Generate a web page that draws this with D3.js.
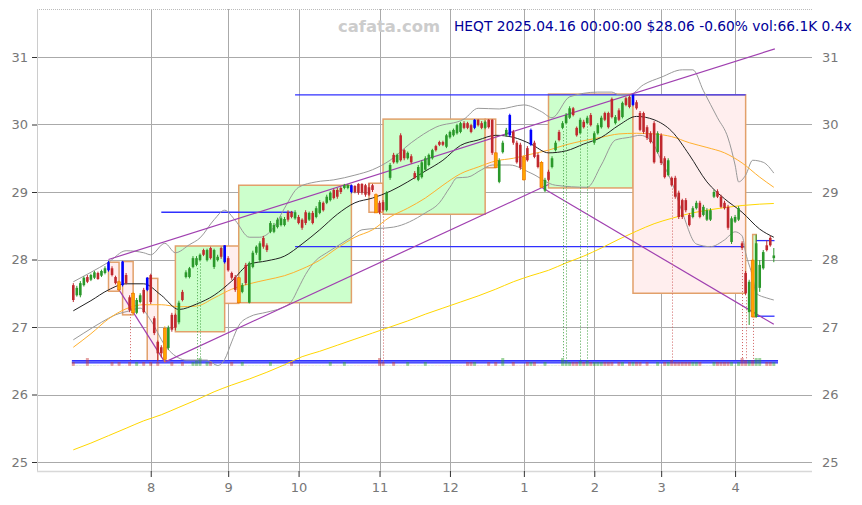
<!DOCTYPE html>
<html><head><meta charset="utf-8">
<script src="https://cdn.jsdelivr.net/npm/d3@7"></script>
<style>body{margin:0;background:#fff}svg{display:block;font-family:"DejaVu Sans",sans-serif}</style>
</head><body><svg id="c" width="862" height="505"></svg>
<script>
// ---------- DATA ----------
// daily candles [open, high, low, close], 2024-07-02 .. 2025-04-16
const candles = [
[27.62,27.65,27.37,27.40],[27.47,27.61,27.45,27.58],[27.47,27.68,27.44,27.65],[27.62,27.75,27.60,27.73],[27.74,27.77,27.65,27.67],
[27.70,27.79,27.68,27.77],[27.73,27.83,27.71,27.81],[27.80,27.82,27.70,27.71],[27.76,27.85,27.74,27.83],[27.80,27.90,27.78,27.87],
[27.84,27.98,27.82,27.96],[27.87,27.90,27.75,27.77],[27.74,27.76,27.63,27.65],[27.67,27.69,27.53,27.55],[27.62,27.98,27.60,27.97],
[27.77,27.80,27.63,27.65],[27.44,27.47,27.22,27.25],[27.50,27.52,27.18,27.21],[27.21,27.43,27.19,27.40],[27.37,27.50,27.35,27.47],
[27.55,27.58,27.20,27.22],[27.55,27.74,27.53,27.73],[27.77,27.79,27.34,27.37],[27.13,27.16,26.88,26.91],[26.78,26.80,26.49,26.61],
[26.70,26.73,26.55,26.61],[26.52,27.01,26.48,26.98],[26.69,27.02,26.66,26.99],[27.18,27.21,26.93,26.96],[27.18,27.20,26.95,26.99],
[27.07,27.39,27.04,27.36],[27.52,27.55,27.38,27.40],[27.74,27.84,27.72,27.81],[27.74,27.89,27.72,27.87],[27.89,28.05,27.87,28.02],
[27.92,28.05,27.90,28.02],[27.99,28.09,27.97,28.07],[28.14,28.16,28.05,28.07],[27.99,28.16,27.97,28.14],[28.17,28.19,28.00,28.02],
[27.89,28.16,27.86,28.14],[27.99,28.07,27.97,28.04],[28.17,28.19,28.01,28.04],[27.96,28.21,27.94,28.21],[28.02,28.05,27.82,27.84],
[27.80,27.82,27.70,27.73],[27.74,27.77,27.52,27.55],[27.36,27.74,27.35,27.73],[27.52,27.65,27.50,27.62],[27.92,27.95,27.62,27.65],
[27.36,27.97,27.35,27.95],[27.89,28.13,27.87,28.10],[28.10,28.21,28.07,28.19],[27.99,28.27,27.96,28.24],[28.32,28.35,28.16,28.19],
[28.21,28.24,28.11,28.14],[28.41,28.57,28.39,28.54],[28.41,28.54,28.39,28.51],[28.48,28.62,28.46,28.59],[28.51,28.64,28.49,28.61],
[28.51,28.63,28.49,28.60],[28.70,28.73,28.56,28.59],[28.70,28.72,28.61,28.63],[28.61,28.73,28.59,28.70],[28.63,28.66,28.52,28.54],
[28.59,28.61,28.44,28.47],[28.70,28.73,28.51,28.54],[28.59,28.71,28.57,28.69],[28.69,28.72,28.52,28.54],[28.63,28.79,28.61,28.76],
[28.69,28.88,28.67,28.85],[28.84,28.86,28.71,28.73],[28.84,28.96,28.82,28.93],[28.88,29.01,28.86,28.99],[29.03,29.05,28.89,28.91],
[29.03,29.06,28.90,28.93],[29.06,29.08,28.97,29.00],[29.06,29.12,29.04,29.10],[29.06,29.12,29.04,29.10],[29.00,29.11,28.98,29.10],
[29.09,29.10,28.98,29.00],[29.12,29.13,28.96,28.99],[29.12,29.13,28.96,28.99],[29.10,29.12,28.93,28.96],[29.07,29.13,28.94,28.96],
[29.10,29.12,29.00,29.03],[28.96,28.98,28.69,28.69],[28.84,28.87,28.67,28.70],[28.85,28.88,28.71,28.73],[28.73,29.01,28.71,28.99],
[29.21,29.43,29.18,29.40],[29.55,29.58,29.42,29.44],[29.44,29.57,29.42,29.55],[29.84,29.87,29.45,29.47],[29.62,29.64,29.47,29.50],
[29.50,29.60,29.48,29.58],[29.53,29.56,29.42,29.44],[29.28,29.31,29.19,29.21],[29.18,29.40,29.16,29.37],[29.22,29.47,29.20,29.44],
[29.33,29.53,29.31,29.50],[29.40,29.57,29.38,29.55],[29.50,29.64,29.48,29.62],[29.68,29.70,29.60,29.62],[29.74,29.76,29.68,29.70],
[29.74,29.76,29.68,29.70],[29.67,29.86,29.65,29.84],[29.81,29.91,29.79,29.89],[29.84,29.94,29.82,29.92],[29.87,30.01,29.85,29.99],
[29.89,30.04,29.87,30.02],[30.02,30.05,29.93,29.95],[30.02,30.04,29.93,29.95],[29.99,30.01,29.87,29.89],[29.95,30.08,29.93,30.07],
[30.07,30.08,29.97,29.99],[30.02,30.05,29.93,29.95],[29.95,30.06,29.93,30.04],[30.07,30.08,29.94,29.96],[30.07,30.08,29.55,29.58],
[29.58,29.59,29.36,29.36],[29.15,29.50,29.13,29.47],[29.59,29.76,29.57,29.73],[29.84,29.95,29.82,29.92],[29.84,30.16,29.82,30.14],
[29.89,29.92,29.70,29.73],[29.73,29.76,29.42,29.44],[29.70,29.73,29.33,29.36],[29.52,29.54,29.17,29.18],[29.65,29.68,29.45,29.47],
[29.70,29.94,29.68,29.92],[29.73,29.76,29.50,29.52],[29.55,29.58,29.35,29.37],[29.44,29.46,29.06,29.07],[29.02,29.21,29.00,29.18],
[29.30,29.33,29.16,29.18],[29.37,29.53,29.35,29.50],[29.62,29.76,29.60,29.73],[29.89,29.92,29.75,29.77],[29.95,30.05,29.93,30.02],
[30.02,30.17,30.00,30.14],[30.10,30.27,30.08,30.24],[30.24,30.26,30.12,30.14],[29.95,29.97,29.82,29.84],[29.87,30.10,29.85,30.07],
[30.04,30.07,29.94,29.96],[30.02,30.13,30.00,30.10],[30.14,30.17,29.97,29.99],[29.73,29.90,29.70,29.87],[29.87,30.02,29.85,29.99],
[29.96,30.13,29.94,30.10],[30.17,30.19,30.05,30.07],[30.17,30.19,29.94,29.96],[30.38,30.40,30.09,30.11],[30.02,30.14,30.00,30.11],
[30.21,30.24,30.05,30.07],[30.11,30.34,30.09,30.32],[30.39,30.41,30.27,30.29],[30.41,30.43,30.24,30.26],[30.29,30.45,30.27,30.44],
[30.33,30.36,30.22,30.24],[30.17,30.20,29.90,29.92],[30.17,30.19,29.86,29.89],[29.96,29.99,29.77,29.80],[29.87,29.90,29.72,29.74],
[30.02,30.05,29.42,29.44],[29.59,29.90,29.57,29.87],[29.84,29.87,29.40,29.43],[29.50,29.53,29.20,29.22],[29.25,29.50,29.23,29.47],
[29.21,29.23,29.08,29.10],[29.21,29.24,28.90,28.93],[28.99,29.02,28.60,28.63],[28.88,28.90,28.60,28.63],[28.88,28.91,28.70,28.73],
[28.66,28.69,28.49,28.51],[28.63,28.79,28.61,28.76],[28.76,28.87,28.74,28.84],[28.84,28.87,28.61,28.63],[28.66,28.81,28.64,28.78],
[28.59,28.76,28.57,28.73],[28.59,28.76,28.57,28.73],[28.93,29.03,28.91,29.00],[29.01,29.04,28.91,28.93],[28.93,28.96,28.76,28.78],
[28.84,28.87,28.74,28.76],[28.78,28.81,28.44,28.47],[28.26,28.64,28.23,28.61],[28.56,28.66,28.54,28.63],[28.59,28.79,28.57,28.76],
[28.24,28.27,28.14,28.17],[27.80,27.83,27.47,27.50],[27.22,27.70,27.03,27.67],[27.99,28.01,27.15,27.15],[27.15,28.37,27.14,28.24],
[27.58,27.99,27.52,27.92],[27.87,28.14,27.85,28.11],[28.21,28.28,28.12,28.14],[28.32,28.35,28.19,28.21],[28.02,28.17,27.96,28.06]
];
// volume, thousands of shares
const volumes = [
70,5,5,5,140,5,5,5,5,5, 5,70,5,70,5,5,70,5,70,5, 70,5,70,5,70,5,5,5,70,5, 5,70,5,5,70,90,140,5,70,70,
5,5,5,5,5,70,5,5,70,5, 5,5,5,5,5,5,70,5,5,5, 5,5,70,5,5,5,5,5,5,5, 5,5,5,70,5,5,5,70,5,5,
5,5,5,5,5,5,5,140,70,5, 5,70,5,5,5,70,5,5,5,5, 70,5,5,5,5,5,5,5,5,5, 5,5,70,70,70,5,5,5,70,5,
70,5,140,5,5,70,5,5,5,70, 70,70,5,5,70,5,5,5,5,140, 90,70,70,70,90,70,90,70,70,70, 70,70,70,70,5,70,70,5,70,70,
70,70,5,70,5,5,70,5,70,70, 100,70,70,70,70,70,70,70,70,5, 5,5,70,70,70,70,70,70,5,70, 140,100,100,100,140,140,5,70,70,66.1
];
const pivotHighs = [10,14,21,43,79,114,124,130,159];   // blue candles
const pivotLows  = [13,17,26,47,86,120,128,133,193];   // orange candles
const markedDays = [16,35,36,88,139,140,144,146,170,190,191,193];

const monthIdx = [22,44,64,87,107,128,148,167,188];
const monthLabels = ['8','9','10','11','12','1','2','3','4'];
const yTicks = [25,26,27,28,29,30,31];

// indicators [day index, price]
const sma20 = [[0,27.24],[5,27.39],[10,27.55],[15,27.64],[20,27.64],[25,27.47],[30,27.26],[35,27.34],[40,27.47],[45,27.68],[50,27.93],[55,27.98],[60,28.05],[65,28.23],[70,28.44],[75,28.67],[80,28.84],[85,28.91],[90,29.01],[95,29.15],[100,29.31],[105,29.47],[110,29.69],[115,29.77],[120,29.84],[125,29.81],[130,29.71],[135,29.58],[140,29.61],[145,29.71],[150,29.81],[155,29.99],[160,30.12],[165,30.07],[170,29.90],[175,29.55],[180,29.15],[185,28.90],[190,28.70],[195,28.45],[199,28.33]];
const sma50 = [[0,26.70],[5,26.90],[10,27.12],[15,27.27],[20,27.33],[25,27.33],[30,27.30],[35,27.31],[40,27.43],[45,27.56],[50,27.64],[55,27.70],[60,27.76],[65,27.86],[70,27.99],[75,28.17],[80,28.33],[85,28.44],[90,28.63],[95,28.76],[100,28.91],[105,29.10],[110,29.27],[115,29.37],[120,29.46],[125,29.50],[130,29.56],[135,29.62],[140,29.70],[145,29.76],[150,29.81],[155,29.86],[160,29.87],[165,29.86],[170,29.82],[175,29.73],[180,29.66],[185,29.58],[190,29.43],[195,29.22],[199,29.07]];
const sma200 = [[0,25.18],[5,25.28],[10,25.39],[15,25.50],[20,25.61],[25,25.70],[30,25.81],[35,25.92],[40,26.04],[45,26.14],[50,26.23],[55,26.33],[60,26.44],[65,26.56],[70,26.64],[75,26.73],[80,26.82],[85,26.91],[90,27.00],[95,27.09],[100,27.19],[105,27.28],[110,27.37],[115,27.46],[120,27.56],[125,27.67],[130,27.76],[135,27.84],[140,27.95],[145,28.05],[150,28.17],[155,28.30],[160,28.42],[165,28.53],[170,28.61],[175,28.68],[180,28.73],[185,28.77],[190,28.80],[195,28.82],[199,28.83]];
const bbUpper = [[0,27.67],[5,27.81],[10,27.96],[15,28.13],[20,28.10],[22,28.07],[26,28.24],[29,28.10],[33,28.22],[36,28.32],[40,28.59],[43,28.73],[46,28.58],[50,28.33],[53,28.33],[57,28.48],[60,28.76],[64,29.07],[69,29.15],[74,29.18],[80,29.25],[85,29.33],[90,29.47],[96,29.73],[103,29.96],[111,30.08],[115,30.24],[121,30.23],[128,30.29],[133,30.19],[136,30.10],[141,30.41],[149,30.48],[153,30.48],[155,30.44],[158,30.44],[162,30.59],[167,30.70],[173,30.81],[176,30.81],[179,30.50],[183,30.10],[186,29.80],[188,29.40],[189,29.15],[191,29.25],[193,29.47],[196,29.44],[199,29.28]];
const bbLower = [[0,26.81],[3,26.91],[8,27.07],[12,27.18],[16,27.24],[19,27.28],[22,27.10],[26,26.73],[30,26.54],[32,26.51],[38,26.51],[41,26.43],[43,26.52],[45,26.78],[47,27.02],[50,27.15],[55,27.22],[59,27.28],[62,27.38],[64,27.58],[66,27.78],[69,27.99],[72,28.10],[79,28.33],[82,28.44],[91,28.48],[100,28.69],[104,28.84],[107,29.07],[109,29.21],[112,29.22],[116,29.33],[119,29.40],[124,29.40],[130,29.28],[137,29.10],[146,29.07],[150,29.40],[154,29.77],[158,29.81],[161,29.84],[164,29.77],[167,29.47],[170,29.15],[173,28.70],[177,28.23],[181,28.19],[185,28.29],[188,28.41],[190,28.35],[191,28.10],[193,27.74],[194,27.50],[197,27.43],[199,27.40]];

// swing boxes: [type, fromDay, toDay, high, low]
const boxes = [
['down',10,13,27.96,27.53],['down',14,17,27.97,27.18],['down',21,24,27.72,26.49],
['up',29,43,28.20,26.93],['down',43,47,28.20,27.35],['up',47,79,29.10,27.36],
['down',84,88,29.13,28.70],['up',88,117,30.08,28.67],['down',117,120,30.08,29.36],
['up',135,159,30.45,29.06],['down',159,191,30.44,27.50],['up',193,194,28.37,27.15]
];
// horizontal levels: [fromDay, toDay, price]
const levels = [[-0.4,200.2,26.50],[-0.4,200.2,26.47],[25,62.5,28.70],[63,190.5,28.19],[63,191,30.44],[194,199.2,28.28],[194,199.2,27.16]];
// trend lines: [[day, price],[day, price]]
const trendLines = [
[[10,28.00],[199.3,31.12]],
[[13,27.55],[26,26.48]],
[[26,26.48],[135,29.11]],
[[133,29.07],[199,27.04]]
];

// ---------- DRAW ----------
const F = {l:37, r:812, t:9, b:471};
const svg = d3.select('#c');
const x = d3.scaleLinear().domain([0,199]).range([73.3,773.8]);
const y = d3.scaleLinear().domain([25,31]).range([462,57]);
const vy = d3.scaleLinear().domain([0,140]).range([366,358]);
const crisp = v => Math.round(v)+0.5;

const GREEN='#2a982a', RED='#c0282e', BLUE='#0000ff', ORANGE='#ffa500';

// grid
svg.append('g').selectAll('line').data(yTicks).join('line')
  .attr('x1',F.l).attr('x2',F.r).attr('y1',d=>crisp(y(d))).attr('y2',d=>crisp(y(d)))
  .attr('stroke','#aaa').attr('stroke-width',1);
svg.append('g').selectAll('line').data(monthIdx).join('line')
  .attr('x1',d=>crisp(x(d))).attr('x2',d=>crisp(x(d))).attr('y1',F.t).attr('y2',F.b)
  .attr('stroke','#aaa').attr('stroke-width',1);

// frame
svg.append('line').attr('x1',F.l).attr('x2',F.r).attr('y1',F.t+0.5).attr('y2',F.t+0.5)
  .attr('stroke','#bbb').attr('stroke-dasharray','1,1');
svg.append('line').attr('x1',F.l+0.5).attr('x2',F.l+0.5).attr('y1',F.t).attr('y2',F.b)
  .attr('stroke','#ccc');
svg.append('line').attr('x1',F.l).attr('x2',F.r).attr('y1',F.b+0.5).attr('y2',F.b+0.5)
  .attr('stroke','#d8d8d8').attr('stroke-width',1.5);

// boxes
svg.append('g').selectAll('rect').data(boxes).join('rect')
  .attr('x',d=>x(d[1])).attr('width',d=>x(d[2])-x(d[1]))
  .attr('y',d=>y(d[3])).attr('height',d=>y(d[4])-y(d[3]))
  .attr('fill',d=>d[0]==='up'?'#ccffcc':'#ffeeee')
  .attr('stroke','#e2a06a').attr('stroke-width',1.5);

// level band (first two levels) fill
svg.append('rect').attr('x',x(levels[0][0])).attr('width',x(levels[0][1])-x(levels[0][0]))
  .attr('y',y(levels[0][2])).attr('height',y(levels[1][2])-y(levels[0][2]))
  .attr('fill','#8f9bff');
svg.append('g').selectAll('line').data(levels).join('line')
  .attr('x1',d=>x(d[0])).attr('x2',d=>x(d[1])).attr('y1',d=>y(d[2])).attr('y2',d=>y(d[2]))
  .attr('stroke','#3030ff').attr('stroke-width',1.3);

// indicator lines
const line = d3.line().x(d=>x(d[0])).y(d=>y(d[1])).curve(d3.curveMonotoneX);
[[bbUpper,'#999',1],[bbLower,'#999',1],[sma200,'#ffd700',1],[sma50,'#ffb02e',1],[sma20,'#222',1]]
  .forEach(([data,col,w])=>svg.append('path').attr('d',line(data)).attr('fill','none')
    .attr('stroke',col).attr('stroke-width',w));

// trend lines
svg.append('g').selectAll('line').data(trendLines).join('line')
  .attr('x1',d=>x(d[0][0])).attr('y1',d=>y(d[0][1])).attr('x2',d=>x(d[1][0])).attr('y2',d=>y(d[1][1]))
  .attr('stroke','#a040b0').attr('stroke-width',1.2);

const isUp = i => candles[i][3] >= candles[i][0];

// volume bars
svg.append('g').selectAll('rect').data(volumes).join('rect')
  .attr('x',(d,i)=>x(i)-1.5).attr('width',3)
  .attr('y',d=>vy(d)).attr('height',d=>vy(0)-vy(d))
  .attr('fill',(d,i)=>isUp(i)?'rgba(40,160,40,0.45)':'rgba(200,50,50,0.45)');

// marked-day dotted lines
svg.append('g').selectAll('line').data(markedDays).join('line')
  .attr('x1',d=>crisp(x(d))).attr('x2',d=>crisp(x(d)))
  .attr('y1',d=>y(candles[d][2])+2).attr('y2',d=>vy(volumes[d]))
  .attr('stroke',d=>isUp(d)?'#40a040':'#d06060').attr('stroke-dasharray','1,2').attr('stroke-width',1);

// candles
const colorOf = i => pivotHighs.includes(i)?BLUE:pivotLows.includes(i)?ORANGE:(isUp(i)?GREEN:RED);
const cg = svg.append('g');
cg.selectAll('line').data(candles).join('line')
  .attr('x1',(d,i)=>x(i)).attr('x2',(d,i)=>x(i))
  .attr('y1',d=>y(d[1])).attr('y2',d=>y(d[2]))
  .attr('stroke',(d,i)=>colorOf(i)).attr('stroke-width',1);
cg.selectAll('rect').data(candles).join('rect')
  .attr('x',(d,i)=>x(i)-(pivotLows.includes(i)?1.5:1.3))
  .attr('width',(d,i)=>pivotLows.includes(i)?3:2.6)
  .attr('y',d=>y(Math.max(d[0],d[3])))
  .attr('height',d=>Math.max(1,Math.abs(y(d[0])-y(d[3]))))
  .attr('fill',(d,i)=>colorOf(i))
  .attr('stroke',(d,i)=>pivotLows.includes(i)?'#e86a00':'none')
  .attr('stroke-width',0.6);

// axes
const styleAxis = g => {
  g.attr('font-family','"DejaVu Sans",sans-serif').attr('font-size',13);
  g.select('.domain').remove();
  g.selectAll('text').attr('fill','#777');
  g.selectAll('line').attr('stroke','#333');
};
svg.append('g').attr('transform',`translate(${F.l},0)`)
  .call(d3.axisLeft(y).tickValues(yTicks).tickSize(5).tickPadding(4).tickFormat(d3.format('d'))).call(styleAxis);
svg.append('g').attr('transform',`translate(${F.r},0)`)
  .call(d3.axisRight(y).tickValues(yTicks).tickSize(0).tickPadding(10).tickFormat(d3.format('d'))).call(styleAxis);
svg.append('g').attr('transform',`translate(0,${F.b})`)
  .call(d3.axisBottom(x).tickValues(monthIdx).tickSize(6).tickPadding(6).tickFormat((d,i)=>monthLabels[i])).call(styleAxis);

// header
svg.append('text').attr('x',338).attr('y',32).attr('font-size',16.4).attr('font-weight','bold')
  .attr('fill','#cccccc').text('cafata.com');
svg.append('text').attr('x',454).attr('y',31).attr('font-size',13.8)
  .attr('fill','#000099').text('HEQT 2025.04.16 00:00:00 $28.06 -0.60% vol:66.1K 0.4x');
</script>
</body></html>
